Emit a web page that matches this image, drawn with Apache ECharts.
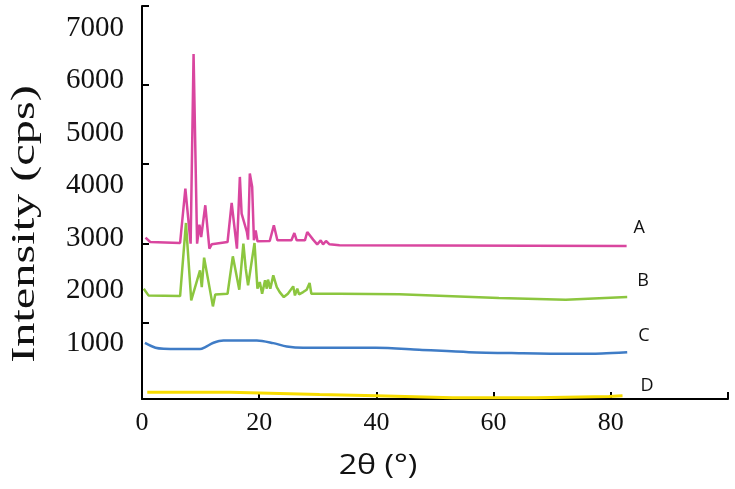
<!DOCTYPE html>
<html>
<head>
<meta charset="utf-8">
<script src="https://cdn.jsdelivr.net/npm/echarts@6/dist/echarts.min.js"></script>
<style>
html,body{margin:0;padding:0;background:#fff;}
#chart{width:735px;height:489px;}
</style>
</head>
<body>
<div id="chart"></div>
<script>
// ---- data (2θ in degrees, intensity in cps, stacked with offsets as drawn) ----
const seriesNames = ['A', 'B', 'C', 'D'];
const seriesColors = ['#d9469f', '#8cc63f', '#3f7cc6', '#f7dc00'];
const xTickLabels = ['0', '20', '40', '60', '80'];
const yTickLabels = [1000, 2000, 3000, 4000, 5000, 6000, 7000];
const tickSteps = [0, 1, 2, 3, 4];

const dataA = [[0.6,3013],[1.4,2930],[6.5,2911],[7.4,3946],[8.3,2899],[8.8,6505],[9.4,2899],[9.8,3261],[10.1,3025],[10.8,3629],[11.5,2804],[11.9,2886],[14.6,2930],[15.3,3672],[16.2,2804],[16.7,4168],[17.0,3470],[17.9,3120],[18.1,2975],[18.4,4232],[18.8,3977],[19.1,2962],[19.4,3152],[19.7,2943],[21.8,2949],[22.5,3248],[23.1,2962],[25.5,2962],[26.0,3101],[26.4,2962],[27.8,2962],[28.2,3120],[29.2,2975],[29.9,2886],[30.5,2962],[30.9,2886],[31.4,2949],[32.0,2886],[33.7,2867],[82.7,2854]];
const dataB = [[0.3,2042],[1.1,1914],[6.5,1901],[7.5,3292],[8.4,1819],[9.4,2200],[9.9,2390],[10.2,2072],[10.6,2632],[11.3,2200],[12.1,1705],[12.5,1933],[14.6,1946],[15.5,2657],[16.6,2023],[17.3,2899],[17.7,2423],[18.1,2105],[19.2,2911],[19.7,2042],[20.1,2168],[20.5,1946],[21.0,2200],[21.3,2042],[21.5,2213],[21.9,2042],[22.4,2295],[23.0,2072],[23.5,1977],[24.2,1882],[24.9,1946],[25.8,2086],[26.1,1914],[26.5,2042],[26.8,1933],[27.5,1977],[28.1,2023],[28.6,2149],[28.9,1946],[33.7,1946],[43.9,1934],[60.9,1863],[72.3,1833],[82.8,1882]];
const dataC = [[0.5,1010],[2.3,918],[3.7,899],[9.9,892],[10.8,930],[12.2,1013],[13.9,1057],[19.6,1057],[22.4,1006],[24.7,943],[27.5,918],[32.0,918],[39.9,918],[47.3,880],[55.8,834],[64.3,815],[72.8,804],[78.5,810],[82.8,834]];
const dataD = [[0.9,72],[15.0,72],[30.3,29],[40.0,4],[53.0,-34],[67.2,-34],[79.7,-10],[82.0,4]];
const allData = [dataA, dataB, dataC, dataD];
const labelOffsets = [[7,-18],[10,-16],[11,-16],[18,-10]];

const chart = echarts.init(document.getElementById('chart'), null, {renderer: 'canvas'});

const series = allData.map((d, i) => ({
  name: seriesNames[i],
  type: 'line',
  yAxisIndex: 1,
  data: d,
  showSymbol: false,
  symbol: 'none',
  smooth: i === 2 ? 0.3 : false,
  clip: false,
  lineStyle: {color: seriesColors[i], width: i === 3 ? 3 : 2.5},
  itemStyle: {color: seriesColors[i]},
  endLabel: {
    show: true,
    formatter: seriesNames[i],
    distance: 0,
    offset: labelOffsets[i],
    color: '#111',
    fontFamily: 'Open Sans',
    fontSize: 18
  },
  emphasis: {disabled: true}
}));

chart.setOption({
  animation: false,
  backgroundColor: '#fff',
  grid: {left: 142, right: 7, top: 6, bottom: 90, containLabel: false},
  xAxis: {
    type: 'value',
    min: 0, max: 100, interval: 20,
    axisLine: {show: true, onZero: false, lineStyle: {color: '#000', width: 2}},
    axisTick: {show: true, inside: true, length: 7, lineStyle: {color: '#000', width: 2}},
    splitLine: {show: false},
    axisLabel: {
      margin: 11,
      color: '#111',
      fontFamily: 'Liberation Serif',
      fontSize: 26,
      formatter: v => (xTickLabels.indexOf(String(v)) >= 0 ? String(v) : '')
    }
  },
  yAxis: [
    {
      type: 'value',
      inverse: true,
      min: 0, max: 4.968, interval: 1,
      axisLine: {show: true, onZero: false, lineStyle: {color: '#000', width: 2}},
      axisTick: {show: true, inside: true, length: 7, lineStyle: {color: '#000', width: 2}, customValues: tickSteps},
      axisLabel: {show: false},
      splitLine: {show: false}
    },
    {
      type: 'value',
      position: 'left',
      min: -57, max: 7420,
      axisLine: {show: false, onZero: false},
      axisTick: {show: false},
      splitLine: {show: false},
      axisLabel: {
        show: true,
        customValues: yTickLabels,
        formatter: v => String(v),
        margin: 18,
        color: '#111',
        fontFamily: 'Liberation Serif',
        fontSize: 29
      }
    }
  ],
  graphic: [
    {
      type: 'text',
      x: 25, y: 224,
      rotation: Math.PI / 2,
      scaleX: 1.42,
      style: {
        text: 'Intensity (cps)',
        fontFamily: 'Liberation Serif',
        fontSize: 34,
        fill: '#111',
        align: 'center',
        verticalAlign: 'middle'
      }
    },
    {
      type: 'text',
      x: 378, y: 466,
      scaleX: 1.15,
      style: {
        text: '2θ (°)',
        fontFamily: 'Open Sans',
        fontSize: 28,
        fill: '#111',
        align: 'center',
        verticalAlign: 'middle'
      }
    }
  ],
  series: series
});
</script>
</body>
</html>
